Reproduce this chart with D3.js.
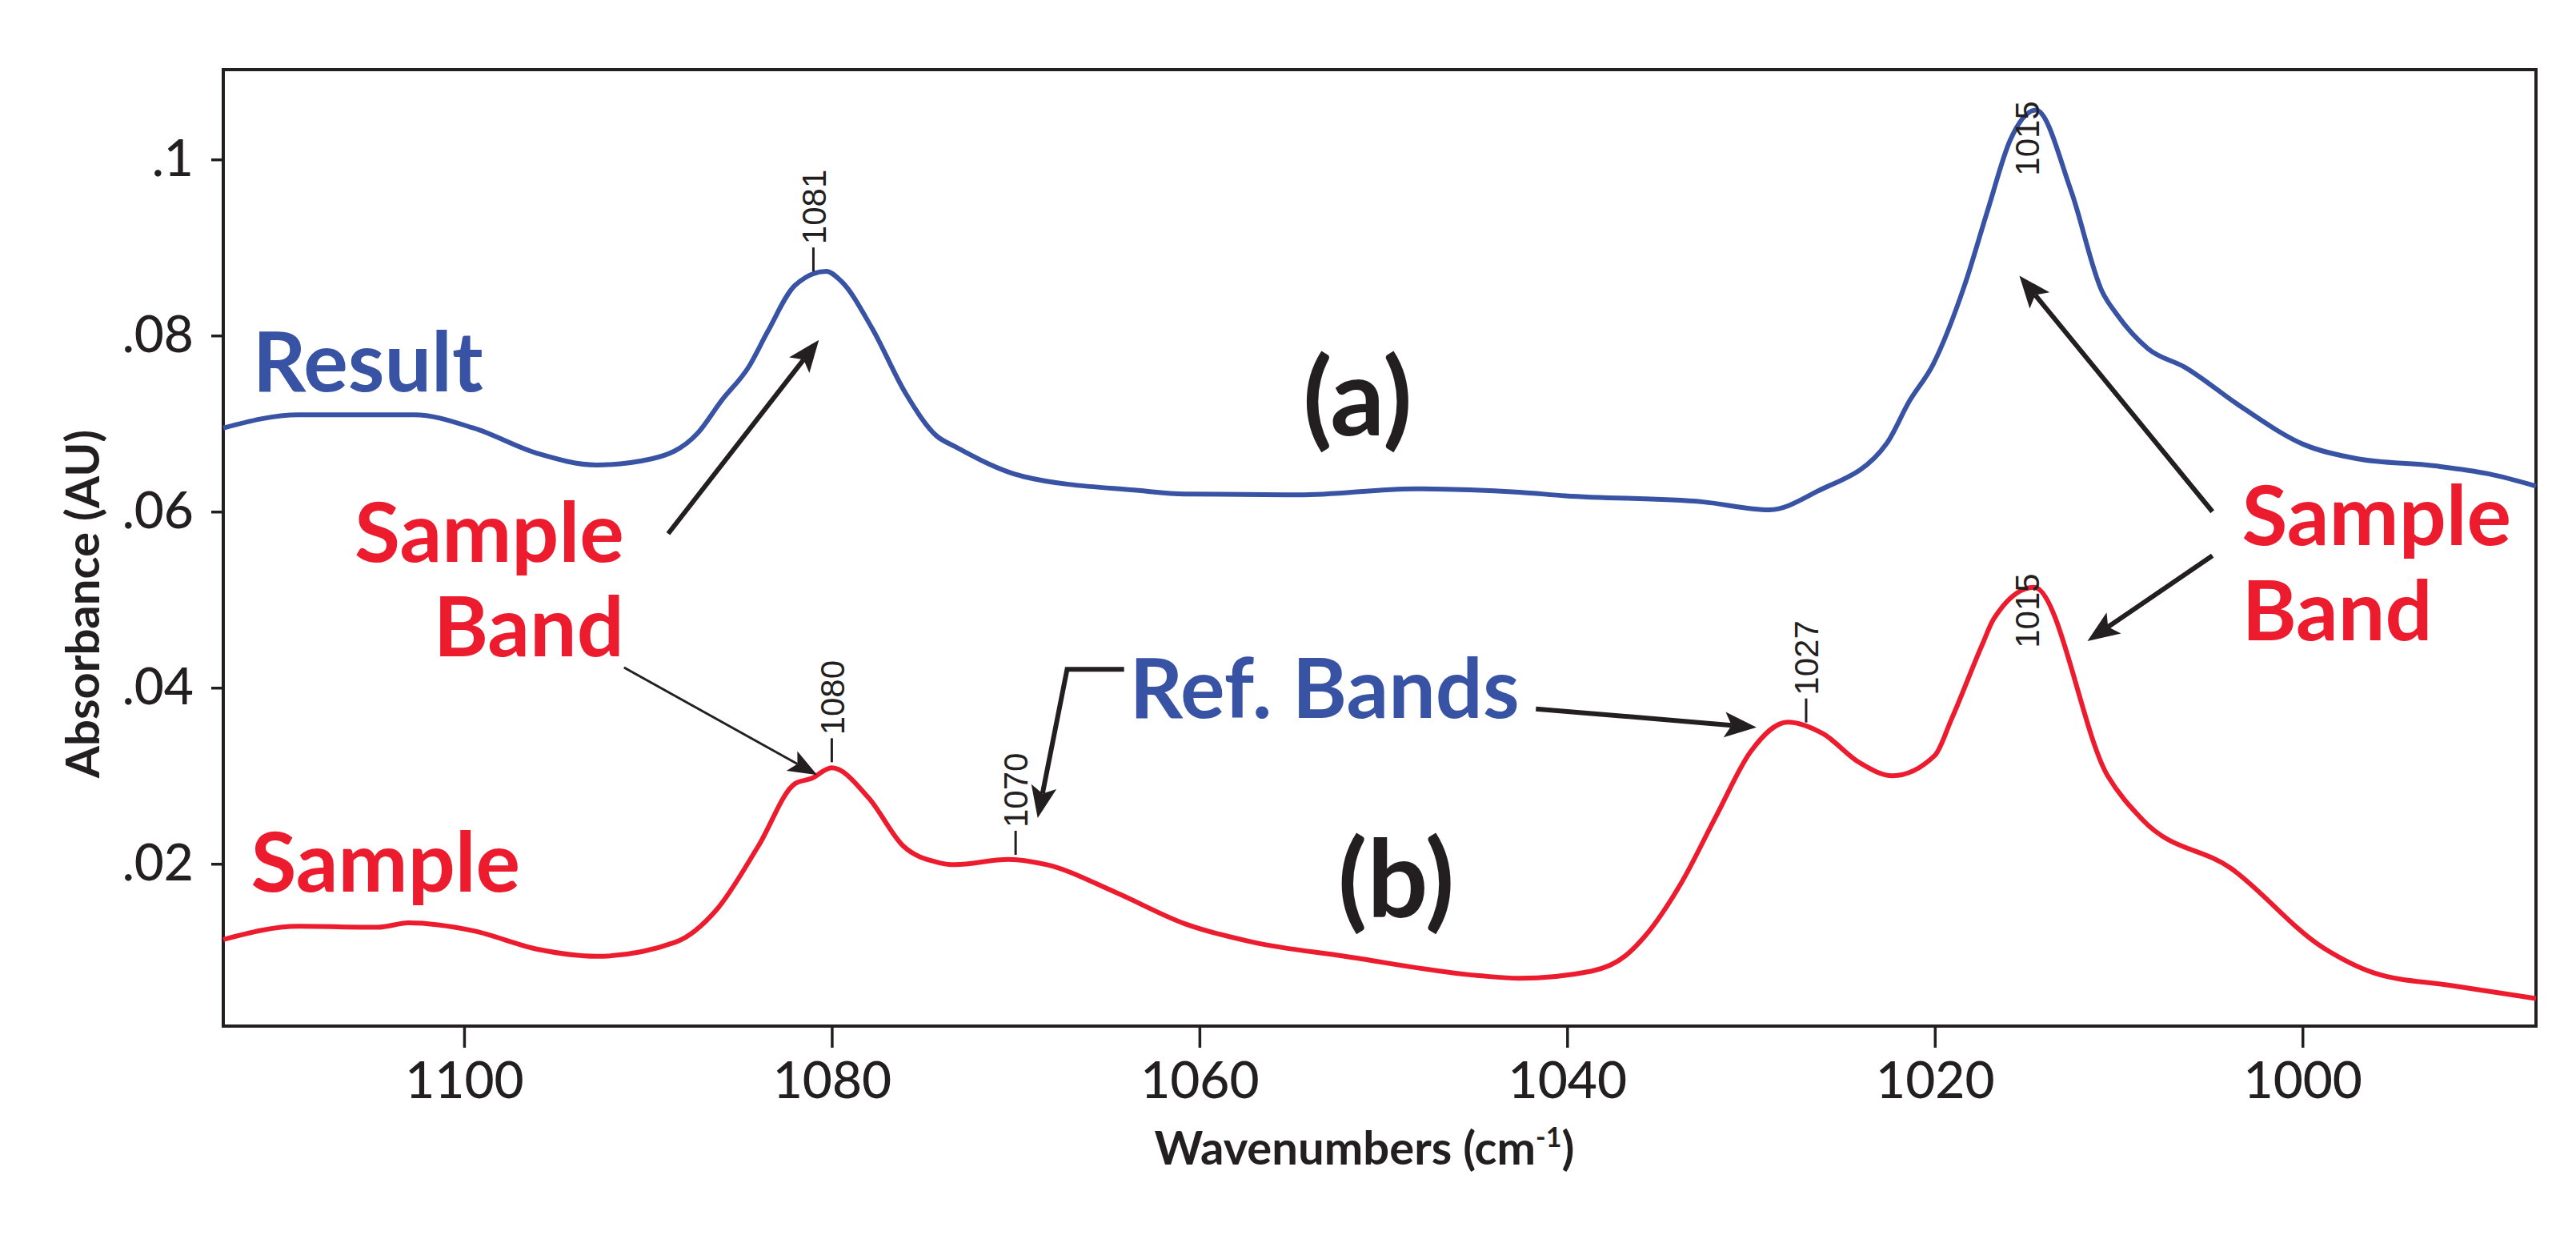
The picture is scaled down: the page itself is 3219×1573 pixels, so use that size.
<!DOCTYPE html>
<html>
<head>
<meta charset="utf-8">
<script src="https://cdn.jsdelivr.net/npm/d3@7"></script>
<style>
  body { margin: 0; background: #fff; }
  svg { display: block; }
</style>
</head>
<body>
<div id="chart"></div>
<script>
// spectrum (a): result after subtraction
const resultWn  = [1113.1, 1109.0, 1102.7, 1099.5, 1096.0, 1092.8, 1089.8, 1087.3, 1086.0, 1084.5, 1083.5, 1082.0, 1080.3, 1079.5, 1077.8, 1076.0, 1074.3, 1073.3, 1069.6, 1063.3, 1060.8, 1054.6, 1048.3, 1042.6, 1040.1, 1032.6, 1029.0, 1026.4, 1022.6, 1021.4, 1020.1, 1018.4, 1017.1, 1015.9, 1014.5, 1012.6, 1010.9, 1010.1, 1008.4, 1006.4, 1003.4, 999.9, 997.0, 992.8, 989.9, 987.3];
const resultAbs = [0.0695, 0.0710, 0.0710, 0.0695, 0.0666, 0.0653, 0.0660, 0.0689, 0.0726, 0.0765, 0.0804, 0.0857, 0.0873, 0.0862, 0.0808, 0.0735, 0.0686, 0.0674, 0.0640, 0.0624, 0.0620, 0.0619, 0.0626, 0.0622, 0.0618, 0.0611, 0.0602, 0.0623, 0.0678, 0.0725, 0.0767, 0.0856, 0.0944, 0.1022, 0.1056, 0.0965, 0.0850, 0.0824, 0.0785, 0.0764, 0.0720, 0.0676, 0.0660, 0.0652, 0.0643, 0.0629];

// spectrum (b): sample
const sampleWn  = [1113.1, 1109.0, 1104.7, 1103.0, 1099.5, 1096.0, 1092.8, 1088.5, 1086.3, 1084.0, 1082.0, 1081.1, 1080.0, 1078.0, 1076.1, 1074.3, 1073.3, 1070.4, 1068.3, 1064.6, 1060.8, 1057.1, 1052.1, 1044.8, 1042.6, 1038.7, 1036.8, 1035.8, 1033.8, 1031.9, 1030.0, 1028.0, 1026.1, 1024.1, 1022.3, 1020.0, 1019.1, 1017.4, 1016.8, 1014.6, 1010.6, 1008.7, 1003.9, 998.9, 996.1, 992.0, 987.3];
const sampleAbs = [0.0114, 0.0129, 0.0128, 0.0133, 0.0124, 0.0103, 0.0095, 0.0111, 0.0147, 0.0220, 0.0291, 0.0297, 0.0309, 0.0275, 0.0220, 0.0202, 0.0199, 0.0205, 0.0199, 0.0168, 0.0132, 0.0111, 0.0095, 0.0073, 0.0070, 0.0078, 0.0096, 0.0117, 0.0178, 0.0254, 0.0328, 0.0361, 0.0348, 0.0315, 0.0300, 0.0323, 0.0364, 0.0450, 0.0478, 0.0514, 0.0300, 0.0250, 0.0195, 0.0105, 0.0076, 0.0062, 0.0047];

const xTicks = [1100, 1080, 1060, 1040, 1020, 1000];
const yTicks = [0.02, 0.04, 0.06, 0.08, 0.1];

// peak position labels
const peakSeries = ['result', 'result', 'sample', 'sample', 'sample', 'sample'];
const peakBands  = [1081, 1015, 1080, 1070, 1027, 1015];
const peakInline = [false, true, false, false, false, true];

const BLUE = '#3953a4', RED = '#ec1c2e', INK = '#231f20';

const W = 3219, H = 1573;
const margin = {top: 87, right: 50, bottom: 291, left: 279};

const svg = d3.select('#chart').append('svg')
    .attr('width', W)
    .attr('height', H)
    .attr('viewBox', `0 0 ${W} ${H}`);

const x = d3.scaleLinear().domain([1113.1, 987.3]).range([margin.left, W - margin.right]);
const y = d3.scaleLinear().domain([0.00157, 0.1102]).range([H - margin.bottom, margin.top]);

const series = {
    result: resultWn.map((w, i) => [w, resultAbs[i]]),
    sample: sampleWn.map((w, i) => [w, sampleAbs[i]])
};

// axes
const xAxis = svg.append('g')
    .attr('transform', `translate(0,${H - margin.bottom})`)
    .call(d3.axisBottom(x).tickValues(xTicks).tickSize(27).tickPadding(18).tickFormat(d3.format('d')));
const yAxis = svg.append('g')
    .attr('transform', `translate(${margin.left},0)`)
    .call(d3.axisLeft(y).tickValues(yTicks).tickSize(15).tickPadding(22)
        .tickFormat(d => d3.format('.2~f')(d).replace(/^0/, '')));

[xAxis, yAxis].forEach(a => {
    a.select('.domain').remove();
    a.selectAll('.tick line').attr('stroke', INK).attr('stroke-width', 3.5);
    a.selectAll('.tick text')
        .attr('fill', INK)
        .style('font-family', 'Lato, sans-serif')
        .style('font-size', '64px')
        .style('font-weight', 500);
});

// frame
svg.append('rect')
    .attr('x', margin.left).attr('y', margin.top)
    .attr('width', W - margin.left - margin.right)
    .attr('height', H - margin.top - margin.bottom)
    .attr('fill', 'none')
    .attr('stroke', INK)
    .attr('stroke-width', 4);

// axis titles
const xTitle = svg.append('text')
    .attr('x', 1705).attr('y', 1455)
    .attr('text-anchor', 'middle')
    .attr('fill', INK)
    .style('font-family', 'Lato, sans-serif')
    .style('font-size', '58px')
    .style('font-weight', 700);
xTitle.append('tspan').text('Wavenumbers (cm');
xTitle.append('tspan').attr('dy', -22).style('font-size', '34px').text('-1');
xTitle.append('tspan').attr('dy', 22).text(')');

svg.append('text')
    .attr('transform', `translate(124,${(margin.top + H - margin.bottom) / 2 + 70}) rotate(-90)`)
    .attr('text-anchor', 'middle')
    .attr('fill', INK)
    .style('font-family', 'Lato, sans-serif')
    .style('font-size', '58px')
    .style('font-weight', 700)
    .text('Absorbance (AU)');

// spectra
const line = d3.line()
    .x(d => x(d[0]))
    .y(d => y(d[1]))
    .curve(d3.curveMonotoneX);

svg.append('path').datum(series.result)
    .attr('d', line).attr('fill', 'none')
    .attr('stroke', BLUE).attr('stroke-width', 6).attr('stroke-linejoin', 'round');
svg.append('path').datum(series.sample)
    .attr('d', line).attr('fill', 'none')
    .attr('stroke', RED).attr('stroke-width', 6).attr('stroke-linejoin', 'round');

// peak labels
function absAt(name, wn) {
    const pts = series[name];
    for (let i = 0; i < pts.length - 1; i++) {
        const [w0, a0] = pts[i], [w1, a1] = pts[i + 1];
        if (wn <= w0 && wn >= w1) return a0 + (a1 - a0) * (w0 - wn) / (w0 - w1);
    }
    return pts[pts.length - 1][1];
}

peakBands.forEach((band, i) => {
    const px = x(band);
    const py = y(absAt(peakSeries[i], band));
    const g = svg.append('g');
    if (peakInline[i]) {
        g.append('text')
            .attr('transform', `translate(${px},${py + 22}) rotate(-90)`)
            .attr('text-anchor', 'middle')
            .attr('dy', '0.36em')
            .attr('fill', INK)
            .style('font-family', '"Liberation Sans", Arial, sans-serif')
            .style('font-size', '42px')
            .text(band);
    } else {
        g.append('line')
            .attr('x1', px).attr('x2', px)
            .attr('y1', py - 7).attr('y2', py - 37)
            .attr('stroke', INK).attr('stroke-width', 3);
        g.append('text')
            .attr('transform', `translate(${px},${py - 41}) rotate(-90)`)
            .attr('text-anchor', 'start')
            .attr('dy', '0.36em')
            .attr('fill', INK)
            .style('font-family', '"Liberation Sans", Arial, sans-serif')
            .style('font-size', '42px')
            .text(band);
    }
});

// annotations (placed in data units)
const notes = [
    {text: 'Result',     wn: 1111.5, ab: 0.0737, color: BLUE, anchor: 'start',  size: 104},
    {text: 'Sample',     wn: 1111.6, ab: 0.0168, color: RED,  anchor: 'start',  size: 104},
    {text: 'Sample',     wn: 1091.3, ab: 0.0543, color: RED,  anchor: 'end',    size: 104},
    {text: 'Band',       wn: 1091.3, ab: 0.0436, color: RED,  anchor: 'end',    size: 104},
    {text: 'Sample',     wn: 1003.3, ab: 0.0562, color: RED,  anchor: 'start',  size: 104},
    {text: 'Band',       wn: 1003.3, ab: 0.0454, color: RED,  anchor: 'start',  size: 104},
    {text: 'Ref. Bands', wn: 1063.8, ab: 0.0366, color: BLUE, anchor: 'start',  size: 104},
    {text: '(a)',        wn: 1051.4, ab: 0.0687, color: INK,  anchor: 'middle', size: 134},
    {text: '(b)',        wn: 1049.3, ab: 0.0139, color: INK,  anchor: 'middle', size: 134}
];

svg.append('g').selectAll('text')
    .data(notes)
    .join('text')
    .attr('x', d => x(d.wn))
    .attr('y', d => y(d.ab))
    .attr('text-anchor', d => d.anchor)
    .attr('fill', d => d.color)
    .style('font-family', 'Lato, sans-serif')
    .style('font-size', d => d.size + 'px')
    .style('font-weight', 700)
    .text(d => d.text);

const arrows = [
    {pts: [[1088.9, 0.0575], [1080.7, 0.0795]], w: 6},
    {pts: [[1091.3, 0.0423], [1080.8, 0.0301]], w: 3},
    {pts: [[1004.9, 0.0600], [1015.4, 0.0868]], w: 6},
    {pts: [[1004.9, 0.0550], [1011.7, 0.0453]], w: 6},
    {pts: [[1064.1, 0.0421], [1067.2, 0.0421], [1068.8, 0.0252]], w: 6},
    {pts: [[1041.7, 0.0376], [1029.7, 0.0355]], w: 6}
];

const ag = svg.append('g');
arrows.forEach(a => {
    const p = a.pts.map(d => [x(d[0]), y(d[1])]);
    const tip = p[p.length - 1], prev = p[p.length - 2];
    const len = Math.hypot(tip[0] - prev[0], tip[1] - prev[1]);
    const u = [(tip[0] - prev[0]) / len, (tip[1] - prev[1]) / len];
    const n = [-u[1], u[0]];
    const L = a.w > 4 ? 40 : 36, hw = a.w > 4 ? 16 : 14;
    const base = [tip[0] - L * u[0], tip[1] - L * u[1]];
    const notch = [tip[0] - 0.78 * L * u[0], tip[1] - 0.78 * L * u[1]];
    const shaft = p.slice(0, -1).concat([notch]);
    ag.append('path')
        .attr('d', d3.line()(shaft))
        .attr('fill', 'none')
        .attr('stroke', INK)
        .attr('stroke-width', a.w);
    ag.append('path')
        .attr('d', d3.line()([tip, [base[0] + hw * n[0], base[1] + hw * n[1]], notch,
                               [base[0] - hw * n[0], base[1] - hw * n[1]]]) + 'Z')
        .attr('fill', INK);
});
</script>
</body>
</html>
